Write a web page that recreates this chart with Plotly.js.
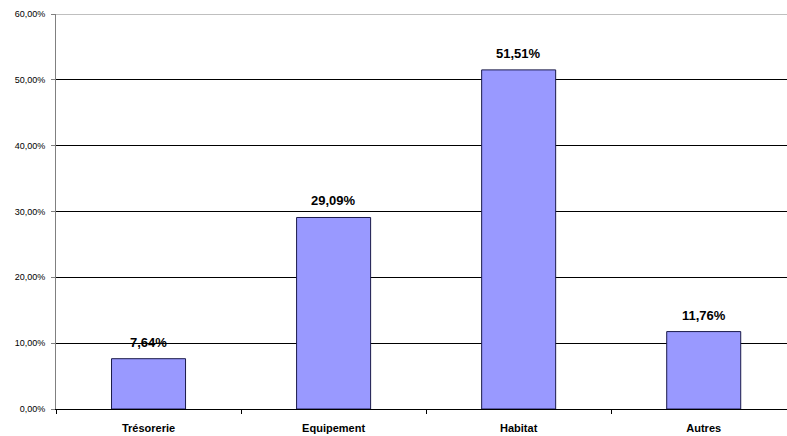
<!DOCTYPE html>
<html>
<head>
<meta charset="utf-8">
<script src="https://cdn.plot.ly/plotly-3.0.1.min.js"></script>
<style>
  html, body { margin: 0; padding: 0; background: #fff; }
  #chart { width: 787px; height: 436px; }
</style>
</head>
<body>
<div id="chart"></div>
<script>
// Répartition des encours par type de crédit (en %)
const categories = ["Trésorerie", "Equipement", "Habitat", "Autres"];
const shares = [7.64, 29.09, 51.51, 11.76];
const yTickValues = [0, 10, 20, 30, 40, 50, 60];
const yTickLabels = ["0,00%", "10,00%", "20,00%", "30,00%", "40,00%", "50,00%", "60,00%"];

const fmt = v => v.toFixed(2).replace(".", ",") + "%";
const FONT = "Liberation Sans, Arial, sans-serif";

const trace = {
  type: "bar",
  x: categories,
  y: shares,
  width: 0.4,
  marker: { color: "#9999FF", line: { color: "#1a1a4a", width: 1 } },
  hoverinfo: "skip"
};

const annotations = categories.map((c, i) => ({
  x: c, y: shares[i], xref: "x", yref: "y",
  text: "<b>" + fmt(shares[i]) + "</b>",
  showarrow: false, yanchor: "bottom", yshift: 7,
  font: { family: FONT, size: 13, color: "#000" }
}));

const layout = {
  width: 787, height: 436,
  margin: { l: 56, r: 0, t: 14, b: 27, pad: 0 },
  paper_bgcolor: "#fff", plot_bgcolor: "#fff",
  showlegend: false,
  xaxis: {
    type: "category",
    range: [-0.5, 3.45],
    tickson: "boundaries",
    ticks: "outside", ticklen: 4, tickcolor: "#000", tickwidth: 1,
    ticklabelstandoff: 9,
    showline: true, linecolor: "#000", linewidth: 1,
    showgrid: false, zeroline: false,
    tickfont: { family: FONT, size: 11, color: "#000", weight: "bold" },
    fixedrange: true
  },
  yaxis: {
    range: [0, 60],
    tickvals: yTickValues, ticktext: yTickLabels,
    ticks: "outside", ticklen: 4, tickcolor: "#808080", tickwidth: 1,
    ticklabelstandoff: 4,
    showline: true, linecolor: "#808080", linewidth: 1,
    showgrid: true, gridcolor: "#000", gridwidth: 1,
    zeroline: false,
    tickfont: { family: FONT, size: 9, color: "#000" },
    fixedrange: true
  },
  shapes: [{
    type: "line", xref: "paper", yref: "y", x0: 0, x1: 1, y0: 60, y1: 60,
    line: { color: "#808080", width: 1 }
  }],
  annotations: annotations
};

Plotly.newPlot("chart", [trace], layout, { displayModeBar: false, staticPlot: true });
</script>
</body>
</html>
